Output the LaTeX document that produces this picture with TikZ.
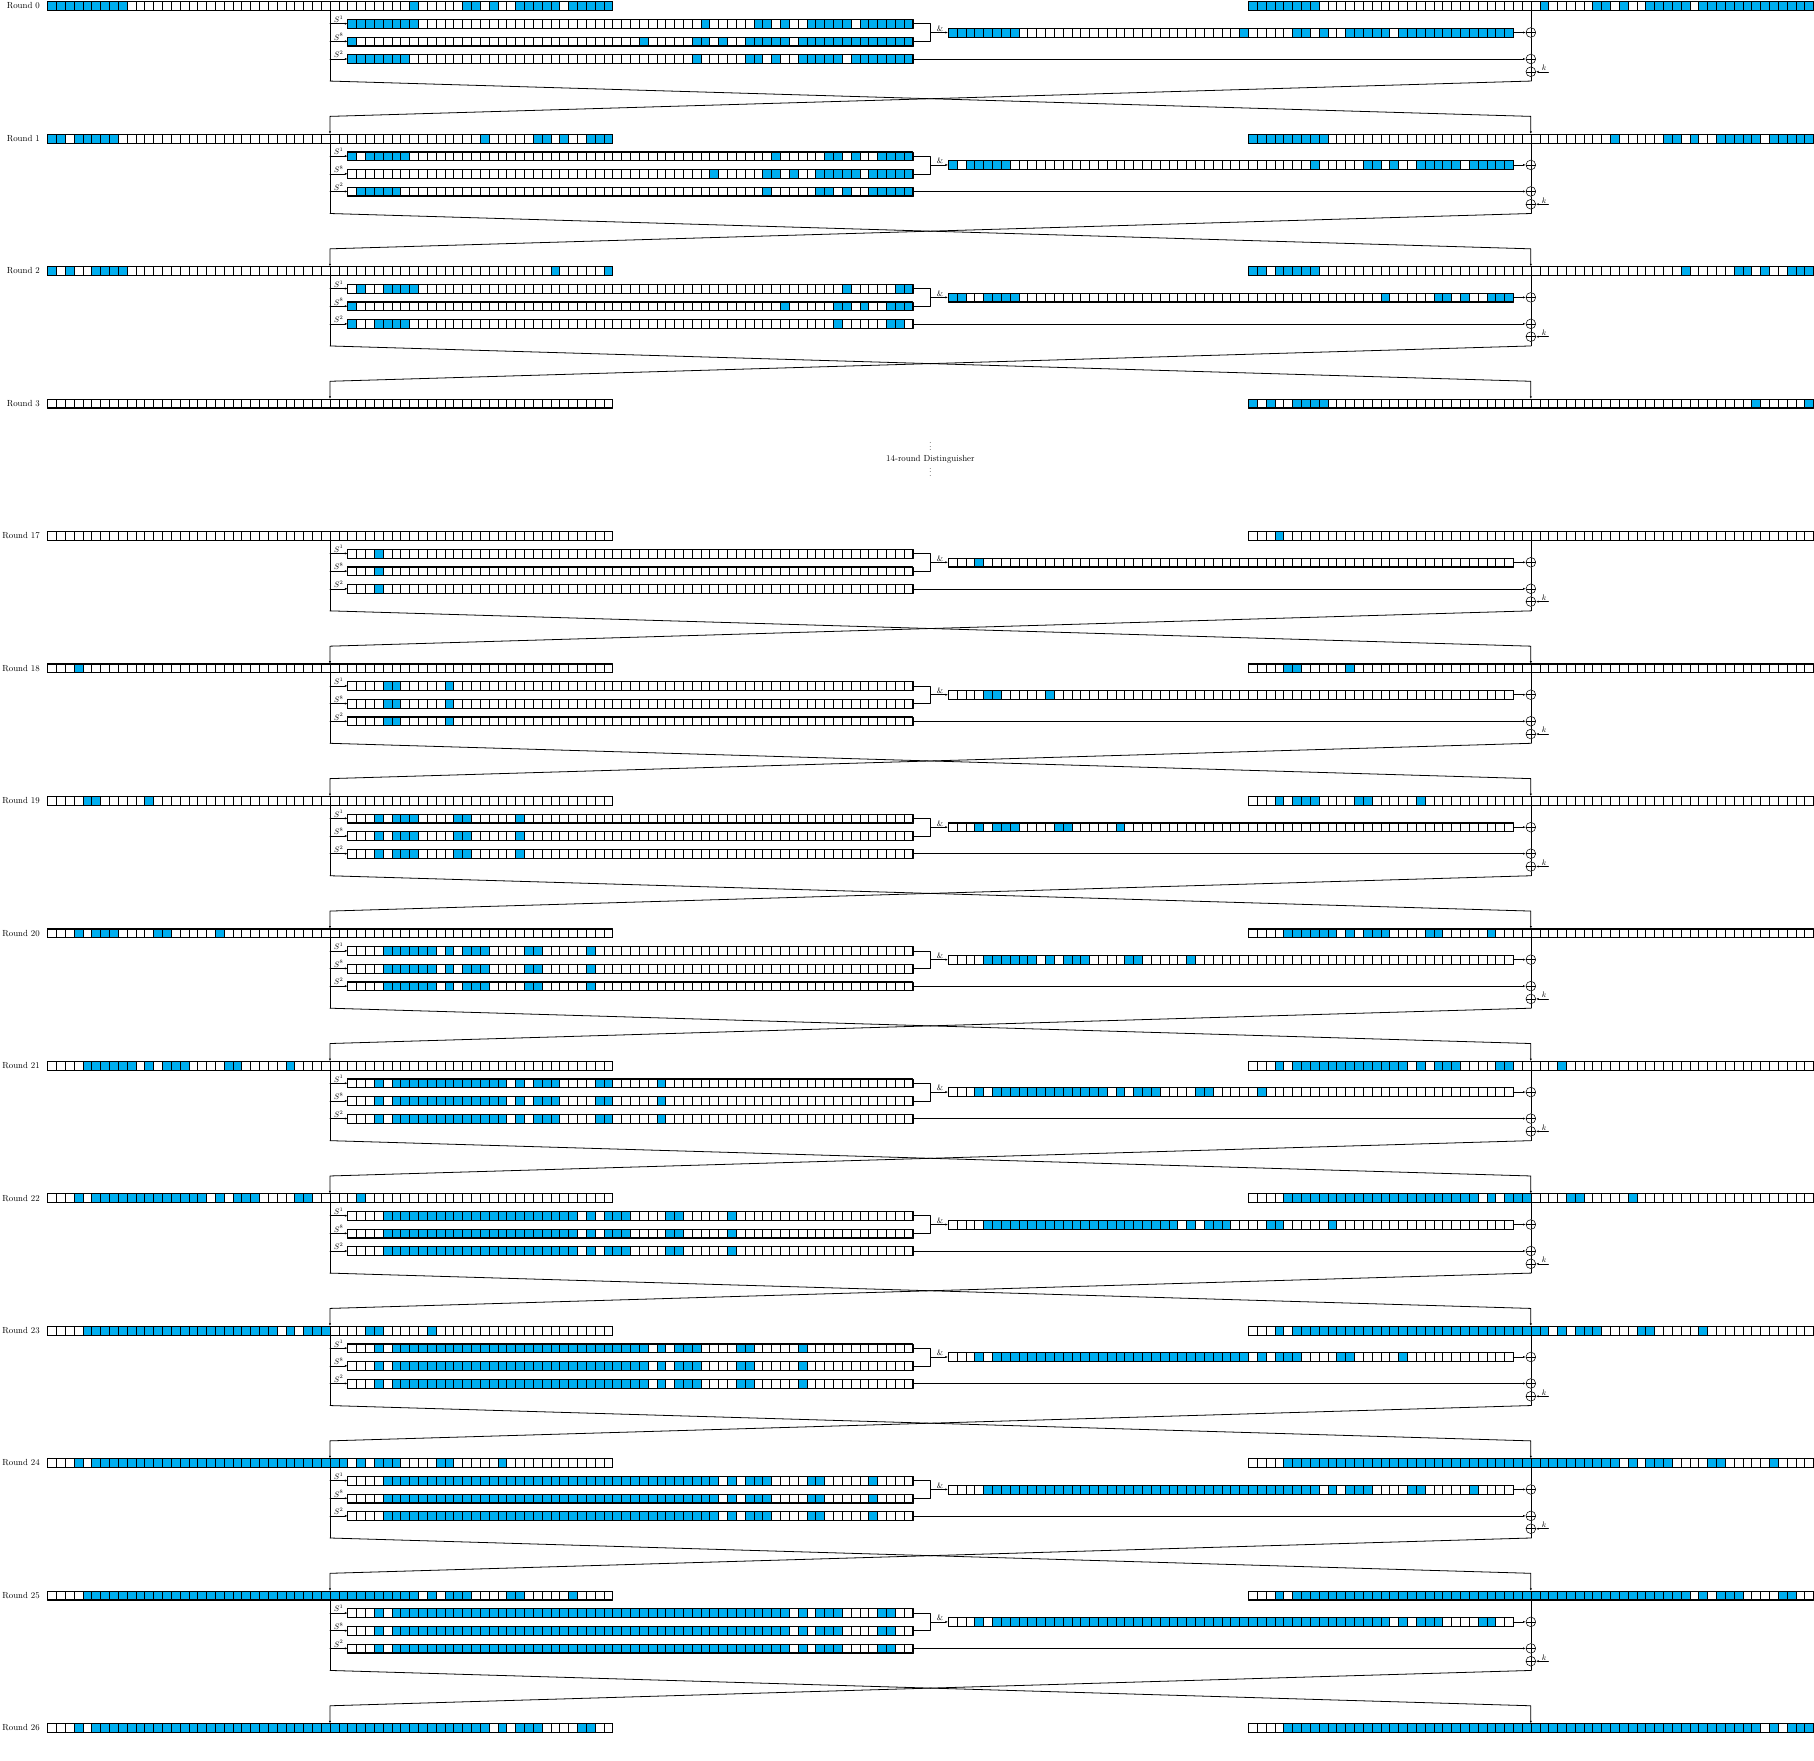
\documentclass[tikz,border=0pt]{standalone}
\usetikzlibrary{arrows.meta}

\definecolor{actcell}{RGB}{0,174,239}

% active cells of the words, as first/last ranges
\newcommand{\diffLzero}{0/8,41/41,47/48,50/50,53/57,59/63}
\newcommand{\diffRzero}{0/7,33/33,39/40,42/42,45/49,51/63}
\newcommand{\diffLone}{0/1,3/7,49/49,55/56,58/58,61/63}
\newcommand{\diffLtwo}{0/0,2/2,5/8,57/57,63/63}
\newcommand{\diffRxvii}{3/3}
\newcommand{\diffRxviii}{4/5,11/11}
\newcommand{\diffRxix}{3/3,5/7,12/13,19/19}
\newcommand{\diffRxx}{4/9,11/11,13/15,20/21,27/27}
\newcommand{\diffRxxi}{3/3,5/17,19/19,21/23,28/29,35/35}
\newcommand{\diffRxxii}{4/25,27/27,29/31,36/37,43/43}
\newcommand{\diffRxxiii}{3/3,5/33,35/35,37/39,44/45,51/51}
\newcommand{\diffRxxiv}{4/41,43/43,45/47,52/53,59/59}
\newcommand{\diffRxxv}{3/3,5/49,51/51,53/55,60/61}
\newcommand{\diffRxxvi}{4/57,59/59,61/63}

% fill active cells of a 64-cell word (x origin, y, ranges, rotation)
\newcommand{\actfill}[4]{%
  \foreach \lo/\hi in #3 {
    \foreach \bit in {\lo,...,\hi} {
      \pgfmathtruncatemacro{\cpos}{mod(\bit-(#4)+64,64)}
      \fill[act] (#1+\cpos,#2-0.5) rectangle ++(1,1);
    }
  }}

% empty 64-cell word
\newcommand{\wordrow}[2]{%
  \foreach \bit in {0,...,63}
    \draw[cellline] (#1+\bit,#2-0.5) rectangle ++(1,1);
  \draw[rowframe] (#1,#2-0.5) rectangle ++(64,1);}

% round function: shifted words, and, xors, swap
\newcommand{\fnframe}[2]{%
  \foreach \dy/\k in {2/1,4/8,6/2} {
    \wordrow{34}{#1-\dy}
    \draw[->] (32,#1-\dy) -- (34,#1-\dy);
    \node[slab] (s\k-#2) at (33,#1-\dy) {$S^{\k}$};
  }
  \wordrow{102}{#1-3}
  \draw (98,#1-2) -- (100,#1-2) -- (100,#1-4) -- (98,#1-4);
  \draw[->] (100,#1-3) -- (102,#1-3);
  \node[slab] (and-#2) at (101.1,#1-3) {$\&$};
  \node[xor] (xa-#2) at (168,#1-3) {};
  \node[xor] (xb-#2) at (168,#1-6) {};
  \node[xor] (xk-#2) at (168,#1-7.45) {};
  \draw (168,#1-0.5) -- (xa-#2) -- (xb-#2) -- (xk-#2) -- (168,#1-8.5);
  \draw[->] (166,#1-3) -- (xa-#2);
  \draw[->] (98,#1-6) -- (xb-#2);
  \coordinate (kin-#2) at (170,#1-7.45);
  \draw[->] (kin-#2) -- (xk-#2);
  \node[klab] (k-#2) at (169.5,#1-7.45) {$k$};
  \draw (32,#1-0.5) -- (32,#1-8.5);
  \draw[swap,->] (32,#1-8.5) -- (168,#1-12.5) -- (168,#1-14.5);
  \draw[swap,->] (168,#1-8.5) -- (32,#1-12.5) -- (32,#1-14.5);}

\newcommand{\upperf}[3]{%
  \actfill{34}{#1-2}{#2}{1}
  \actfill{34}{#1-4}{#2}{8}
  \actfill{34}{#1-6}{#2}{2}
  \actfill{102}{#1-3}{#2}{1}
  \actfill{102}{#1-3}{#2}{8}
  \fnframe{#1}{#3}}

\newcommand{\lowerf}[3]{%
  \actfill{34}{#1-2}{#2}{0}
  \actfill{34}{#1-4}{#2}{0}
  \actfill{34}{#1-6}{#2}{0}
  \actfill{102}{#1-3}{#2}{0}
  \fnframe{#1}{#3}}

\begin{document}
\begin{tikzpicture}[x=10pt,y=10pt,line cap=round,line join=round,line width=0.6pt,
  >={Latex[length=3pt,width=2.4pt]},
  act/.style={fill=actcell},
  cellline/.style={line width=0.4pt},
  rowframe/.style={line width=0.8pt},
  swap/.style={line width=0.9pt},
  roundlab/.style={left=5pt},
  slab/.style={above,inner sep=1pt,font=\small},
  klab/.style={above,inner sep=1pt,font=\small},
  xor/.style={circle,draw,inner sep=0pt,minimum size=11pt,
    path picture={\draw (path picture bounding box.north) -- (path picture bounding box.south)
      (path picture bounding box.west) -- (path picture bounding box.east);}}]
  \useasboundingbox (-5.37,-198.75) rectangle (200.07,0.68);

  \foreach \r/\y in {0/0,1/-15,2/-30,3/-45,17/-60,18/-75,19/-90,20/-105,21/-120,22/-135,23/-150,24/-165,25/-180,26/-195}
    \node[roundlab] (round\r) at (0,\y) {Round \r};

  % Round 0
  \actfill{0}{0}{\diffLzero}{0}
  \actfill{136}{0}{\diffRzero}{0}
  \wordrow{0}{0}
  \wordrow{136}{0}
  \upperf{0}{\diffLzero}{0}

  % Round 1
  \actfill{0}{-15}{\diffLone}{0}
  \actfill{136}{-15}{\diffLzero}{0}
  \wordrow{0}{-15}
  \wordrow{136}{-15}
  \upperf{-15}{\diffLone}{1}

  % Round 2
  \actfill{0}{-30}{\diffLtwo}{0}
  \actfill{136}{-30}{\diffLone}{0}
  \wordrow{0}{-30}
  \wordrow{136}{-30}
  \upperf{-30}{\diffLtwo}{2}

  % Round 3
  \actfill{136}{-45}{\diffLtwo}{0}
  \wordrow{0}{-45}
  \wordrow{136}{-45}

  \node (dotsup) at (100,-49.6) {$\vdots$};
  \node (dist) at (100,-51.35) {14-round Distinguisher};
  \node (dotsdown) at (100,-52.5) {$\vdots$};

  % Round 17
  \actfill{136}{-60}{\diffRxvii}{0}
  \wordrow{0}{-60}
  \wordrow{136}{-60}
  \lowerf{-60}{\diffRxvii}{17}

  % Round 18
  \actfill{0}{-75}{\diffRxvii}{0}
  \actfill{136}{-75}{\diffRxviii}{0}
  \wordrow{0}{-75}
  \wordrow{136}{-75}
  \lowerf{-75}{\diffRxviii}{18}

  % Round 19
  \actfill{0}{-90}{\diffRxviii}{0}
  \actfill{136}{-90}{\diffRxix}{0}
  \wordrow{0}{-90}
  \wordrow{136}{-90}
  \lowerf{-90}{\diffRxix}{19}

  % Round 20
  \actfill{0}{-105}{\diffRxix}{0}
  \actfill{136}{-105}{\diffRxx}{0}
  \wordrow{0}{-105}
  \wordrow{136}{-105}
  \lowerf{-105}{\diffRxx}{20}

  % Round 21
  \actfill{0}{-120}{\diffRxx}{0}
  \actfill{136}{-120}{\diffRxxi}{0}
  \wordrow{0}{-120}
  \wordrow{136}{-120}
  \lowerf{-120}{\diffRxxi}{21}

  % Round 22
  \actfill{0}{-135}{\diffRxxi}{0}
  \actfill{136}{-135}{\diffRxxii}{0}
  \wordrow{0}{-135}
  \wordrow{136}{-135}
  \lowerf{-135}{\diffRxxii}{22}

  % Round 23
  \actfill{0}{-150}{\diffRxxii}{0}
  \actfill{136}{-150}{\diffRxxiii}{0}
  \wordrow{0}{-150}
  \wordrow{136}{-150}
  \lowerf{-150}{\diffRxxiii}{23}

  % Round 24
  \actfill{0}{-165}{\diffRxxiii}{0}
  \actfill{136}{-165}{\diffRxxiv}{0}
  \wordrow{0}{-165}
  \wordrow{136}{-165}
  \lowerf{-165}{\diffRxxiv}{24}

  % Round 25
  \actfill{0}{-180}{\diffRxxiv}{0}
  \actfill{136}{-180}{\diffRxxv}{0}
  \wordrow{0}{-180}
  \wordrow{136}{-180}
  \lowerf{-180}{\diffRxxv}{25}

  % Round 26
  \actfill{0}{-195}{\diffRxxv}{0}
  \actfill{136}{-195}{\diffRxxvi}{0}
  \wordrow{0}{-195}
  \wordrow{136}{-195}
\end{tikzpicture}
\end{document}
